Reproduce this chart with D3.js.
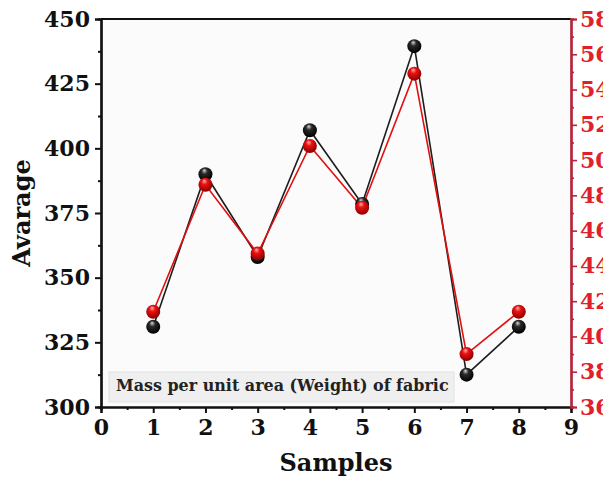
<!DOCTYPE html>
<html><head><meta charset="utf-8">
<script src="https://cdn.jsdelivr.net/npm/d3@7"></script>
<style>
html,body{margin:0;padding:0;background:#fff;overflow:hidden;}
svg{display:block;}
text{font-family:"DejaVu Serif",Georgia,serif;font-weight:bold;}
</style></head>
<body>
<svg id="c" width="603" height="477"></svg>
<script>
const samples = [1, 2, 3, 4, 5, 6, 7, 8];
const avgBlack = [331, 390, 358, 407, 378.5, 439.5, 312.5, 331];
const avgRed = [41.4, 48.6, 44.7, 50.8, 47.3, 54.9, 39.0, 41.4];
const xTicks = [0, 1, 2, 3, 4, 5, 6, 7, 8, 9];
const yLeftTicks = [300, 325, 350, 375, 400, 425, 450];
const yRightTicks = [36, 38, 40, 42, 44, 46, 48, 50, 52, 54, 56, 58];
const legendLabel = "Mass per unit area (Weight) of fabric";

const L = 101, R = 571, T = 19, B = 407;
const svg = d3.select("#c");
const x = d3.scaleLinear().domain([0, 9]).range([L, R]);
const yL = d3.scaleLinear().domain([300, 450]).range([B, T]);
const yR = d3.scaleLinear().domain([36, 58]).range([B, T]);

const defs = svg.append("defs");
function sphere(id, c0, c1, c2) {
  const g = defs.append("radialGradient").attr("id", id)
    .attr("cx", "45%").attr("cy", "40%").attr("r", "60%")
    .attr("fx", "42%").attr("fy", "22%");
  g.append("stop").attr("offset", "0%").attr("stop-color", c0);
  g.append("stop").attr("offset", "35%").attr("stop-color", c1);
  g.append("stop").attr("offset", "100%").attr("stop-color", c2);
}
sphere("gBlack", "#d8d8d8", "#2a2a2a", "#000");
sphere("gRed", "#ffb0b0", "#ee1111", "#8a0000");

// plot background
svg.append("rect").attr("x", L).attr("y", T).attr("width", R - L).attr("height", B - T)
  .attr("fill", "#fbfbfb");

// legend box
const lg = svg.append("g");
lg.append("rect").attr("x", 109).attr("y", 372).attr("width", 345).attr("height", 30)
  .attr("fill", "#efefef").attr("stroke", "#e2e2e2").attr("stroke-width", 1);
const lgText = lg.append("text").attr("x", 116).attr("y", 391).attr("font-size", 14)
  .attr("fill", "#222").text(legendLabel);
const tw = lgText.node().getComputedTextLength();
lgText.attr("font-size", 14 * 333 / tw);

// lines
const lineB = d3.line().x((d, i) => x(samples[i])).y(d => yL(d));
const lineR = d3.line().x((d, i) => x(samples[i])).y(d => yR(d));
svg.append("path").attr("d", lineB(avgBlack)).attr("fill", "none")
  .attr("stroke", "#1e1e1e").attr("stroke-width", 1.6);
svg.append("path").attr("d", lineR(avgRed)).attr("fill", "none")
  .attr("stroke", "#e01010").attr("stroke-width", 1.6);

// markers
svg.append("g").selectAll("circle").data(avgBlack).join("circle")
  .attr("cx", (d, i) => x(samples[i])).attr("cy", d => yL(d)).attr("r", 7)
  .attr("fill", "url(#gBlack)");
svg.append("g").selectAll("circle").data(avgRed).join("circle")
  .attr("cx", (d, i) => x(samples[i])).attr("cy", d => yR(d)).attr("r", 7)
  .attr("fill", "url(#gRed)");

// top frame
svg.append("line").attr("x1", L).attr("x2", R).attr("y1", T).attr("y2", T)
  .attr("stroke", "#111").attr("stroke-width", 2.2);

function minor(arr, step) {
  const out = [];
  for (let i = 0; i < arr.length - 1; i++) out.push(arr[i] + step / 2);
  return out;
}
// left axis
const gL = svg.append("g").attr("transform", `translate(${L},0)`);
gL.call(d3.axisLeft(yL).tickValues(minor(yLeftTicks, 25)).tickSize(3).tickFormat(""));
gL.append("g").call(d3.axisLeft(yL).tickValues(yLeftTicks).tickSize(6).tickPadding(5));
gL.selectAll("path.domain").attr("stroke", "#111").attr("stroke-width", 2.2);
gL.selectAll("line").attr("stroke", "#111").attr("stroke-width", 2);
gL.selectAll("text").attr("font-size", 22).attr("fill", "#111").attr("font-family", "DejaVu Serif");

// bottom axis
const gB = svg.append("g").attr("transform", `translate(0,${B})`);
gB.call(d3.axisBottom(x).tickValues(minor(xTicks, 1)).tickSize(3).tickFormat(""));
gB.append("g").call(d3.axisBottom(x).tickValues(xTicks).tickSize(6).tickPadding(6).tickFormat(d3.format("d")));
gB.selectAll("path.domain").attr("stroke", "#111").attr("stroke-width", 2.2);
gB.selectAll("line").attr("stroke", "#111").attr("stroke-width", 2);
gB.selectAll("text").attr("font-size", 22).attr("fill", "#111").attr("font-family", "DejaVu Serif");

// right axis
const gR = svg.append("g").attr("transform", `translate(${R},0)`);
gR.call(d3.axisRight(yR).tickValues(minor(yRightTicks, 2)).tickSize(3).tickFormat(""));
gR.append("g").call(d3.axisRight(yR).tickValues(yRightTicks).tickSize(6).tickPadding(3));
gR.selectAll("path.domain").attr("stroke", "#b3263a").attr("stroke-width", 2.2);
gR.selectAll("line").attr("stroke", "#b3263a").attr("stroke-width", 1.6);
gR.selectAll("text").attr("font-size", 22).attr("fill", "#e0202a").attr("font-family", "DejaVu Serif");

// axis titles
svg.append("text").attr("x", (L + R) / 2).attr("y", 471).attr("text-anchor", "middle")
  .attr("font-size", 24).attr("fill", "#111").text("Samples");
svg.append("text").attr("transform", `translate(30,${(T + B) / 2}) rotate(-90)`)
  .attr("text-anchor", "middle").attr("font-size", 24).attr("fill", "#111").text("Avarage");
</script>
</body></html>
